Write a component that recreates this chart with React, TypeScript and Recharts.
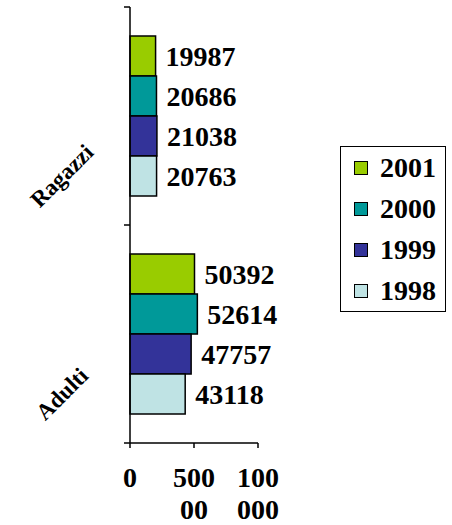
import React from "react";
import { BarChart, Bar, XAxis, YAxis, LabelList } from "recharts";

const categories = ["Ragazzi", "Adulti"];
const years = ["2001", "2000", "1999", "1998"];
const values2001 = [19987, 50392];
const values2000 = [20686, 52614];
const values1999 = [21038, 47757];
const values1998 = [20763, 43118];
const colors = ["#99CC00", "#009999", "#333399", "#BFE3E4"];
const xTicks = [0, 50000, 100000];
const xTickLabels = [["0"], ["500", "00"], ["100", "000"]];

const FONT = "Liberation Serif";

const seriesValues = [values2001, values2000, values1999, values1998];
const data = categories.map((name, i) => {
  const row: Record<string, string | number> = { name, band: i + 0.5 };
  years.forEach((y, k) => {
    row[y] = seriesValues[k][i];
  });
  return row;
});

const CategoryTick = (props: any) => {
  const { x, y, payload } = props;
  const cx = x - 54;
  const cy = y + 60;
  return (
    <text
      x={cx}
      y={cy}
      transform={`rotate(-45, ${cx}, ${cy})`}
      textAnchor="middle"
      dominantBaseline="central"
      fontFamily={FONT}
      fontWeight="bold"
      fontSize={23}
      fill="#000"
    >
      {payload.value}
    </text>
  );
};

// value ticks wrap onto two lines
const ValueTick = (props: any) => {
  const { x, y, payload } = props;
  const idx = xTicks.indexOf(payload.value);
  const lines = xTickLabels[idx] || [String(payload.value)];
  return (
    <text x={x} y={y} textAnchor="middle" fontFamily={FONT} fontWeight="bold" fontSize={28} fill="#000">
      {lines.map((l, i) => (
        <tspan key={i} x={x} y={y + 37 + i * 32}>
          {l}
        </tspan>
      ))}
    </text>
  );
};

// empty tick content so only the tick marks of the band axis are drawn
const NoLabel = () => <g />;

const LegendBox = () => (
  <div
    style={{
      position: "absolute",
      left: 340,
      top: 146,
      width: 106,
      height: 166,
      boxSizing: "border-box",
      border: "1.5px solid #000",
      background: "#fff",
      fontFamily: FONT,
      fontWeight: "bold",
      fontSize: 28,
    }}
  >
    {years.map((y, i) => (
      <div
        key={y}
        style={{ height: 41, display: "flex", alignItems: "center", paddingLeft: 13 }}
      >
        <span
          style={{
            width: 14,
            height: 14,
            boxSizing: "border-box",
            border: "1.5px solid #000",
            background: colors[i],
            display: "inline-block",
            marginRight: 12,
          }}
        />
        <span style={{ lineHeight: 1 }}>{y}</span>
      </div>
    ))}
  </div>
);

export default function App() {
  return (
    <div style={{ position: "absolute", left: 0, top: 0, width: 452, height: 525, background: "#fff" }}>
      <BarChart
        width={452}
        height={525}
        data={data}
        layout="vertical"
        margin={{ top: 7, right: 194, bottom: 22, left: 64 }}
        barCategoryGap={29}
        barGap={0}
      >
        <XAxis
          type="number"
          domain={[0, 100000]}
          ticks={xTicks}
          interval={0}
          height={60}
          stroke="#000"
          strokeWidth={1.5}
          tickSize={5}
          tick={<ValueTick />}
        />
        <YAxis
          yAxisId="band"
          type="number"
          dataKey="band"
          domain={[0, 2]}
          ticks={[0, 1, 2]}
          reversed
          width={6}
          tickSize={6}
          tick={<NoLabel />}
          stroke="#000"
          strokeWidth={1.5}
        />
        <YAxis
          yAxisId="cat"
          type="category"
          dataKey="name"
          width={60}
          axisLine={false}
          tickLine={false}
          tick={<CategoryTick />}
        />
        {years.map((y, i) => (
          <Bar
            key={y}
            yAxisId="cat"
            dataKey={y}
            name={y}
            fill={colors[i]}
            stroke="#000"
            strokeWidth={1.5}
            isAnimationActive={false}
          >
            <LabelList
              dataKey={y}
              position="right"
              offset={10}
              fontFamily={FONT}
              fontWeight="bold"
              fontSize={28}
              fill="#000"
            />
          </Bar>
        ))}
      </BarChart>
      <LegendBox />
    </div>
  );
}
